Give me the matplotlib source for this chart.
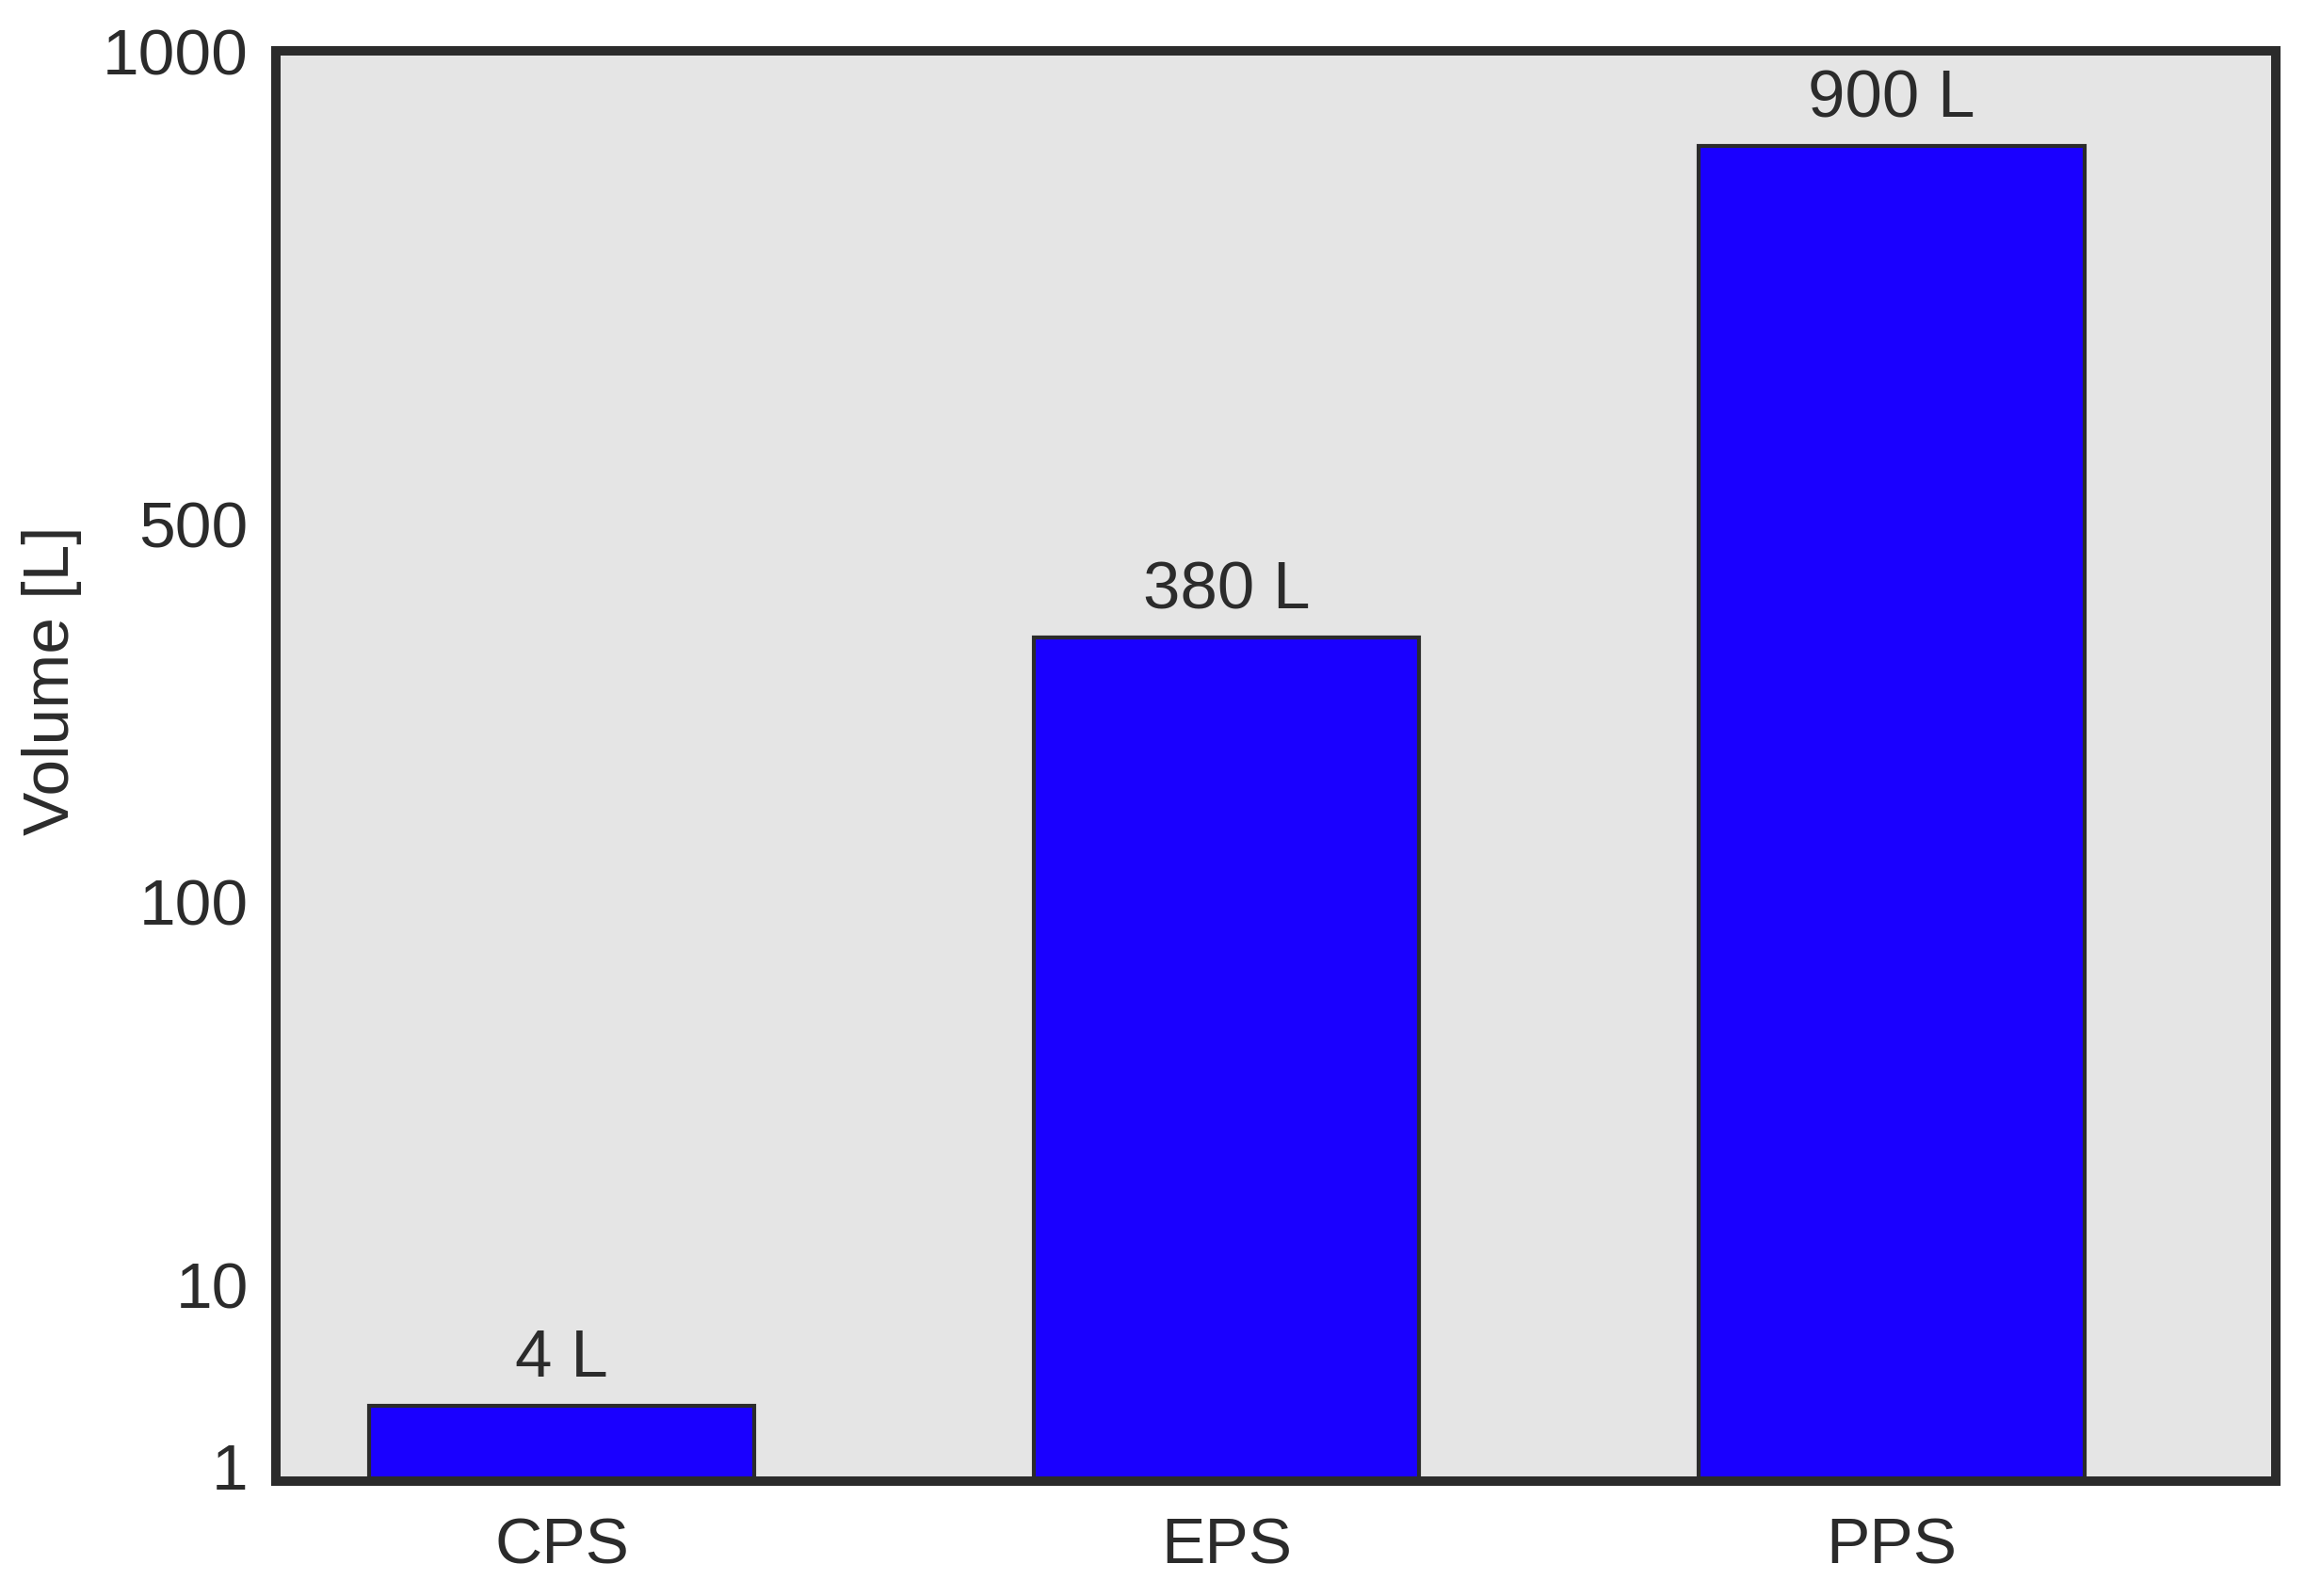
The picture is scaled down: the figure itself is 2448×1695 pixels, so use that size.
import numpy as np
import matplotlib.pyplot as plt

# data
sistemler = ['CPS', 'EPS', 'PPS']
hacimler = [4, 380, 900]
etiketler = ['4 L', '380 L', '900 L']

# y axis is not linear/log: ticks sit at these heights (fraction of axis)
tick_degerleri = [1, 10, 100, 500, 1000]
tick_konumlari = [0.0105, 0.137, 0.405, 0.669, 1.0]

olcek_x = [0] + tick_degerleri
olcek_y = [0.0] + tick_konumlari


def ileri(v):
    return np.interp(v, olcek_x, olcek_y)


def geri(p):
    return np.interp(p, olcek_y, olcek_x)


def hacim_grafigi_olustur():
    koyu = '#2b2b2b'
    plt.rcParams['font.family'] = ['Liberation Sans', 'DejaVu Sans']

    fig = plt.figure(figsize=(24.48, 16.95), dpi=100)
    ax = fig.add_axes([0.1197, 0.072, 0.8676, 0.896])
    ax.set_facecolor('#e5e5e5')

    ax.set_yscale('function', functions=(ileri, geri))
    x = np.arange(len(sistemler))
    bars = ax.bar(x, hacimler, width=0.58, color='#1a00ff',
                  edgecolor=koyu, linewidth=3, zorder=2)

    for bar, etiket in zip(bars, etiketler):
        ax.annotate(etiket, (bar.get_x() + bar.get_width() / 2, bar.get_height()),
                    xytext=(0, 22), textcoords='offset points',
                    ha='center', va='baseline', fontsize=51, color=koyu)

    ax.set_xlim(-0.43, 2.578)
    ax.set_ylim(0, 1000)
    ax.set_xticks(x)
    ax.set_xticklabels(sistemler)
    ax.set_yticks(tick_degerleri)
    ax.set_yticklabels([str(t) for t in tick_degerleri])
    ax.tick_params(axis='both', length=0, labelsize=50, labelcolor=koyu)
    ax.tick_params(axis='y', pad=21)
    ax.tick_params(axis='x', pad=27)
    ax.set_ylabel('Volume [L]', fontsize=50, color=koyu)
    ax.yaxis.set_label_coords(-0.097, 0.56)

    for spine in ax.spines.values():
        spine.set_linewidth(7.2)
        spine.set_color(koyu)

    plt.savefig('out.png', dpi=100)
    plt.close()


if __name__ == "__main__":
    hacim_grafigi_olustur()
